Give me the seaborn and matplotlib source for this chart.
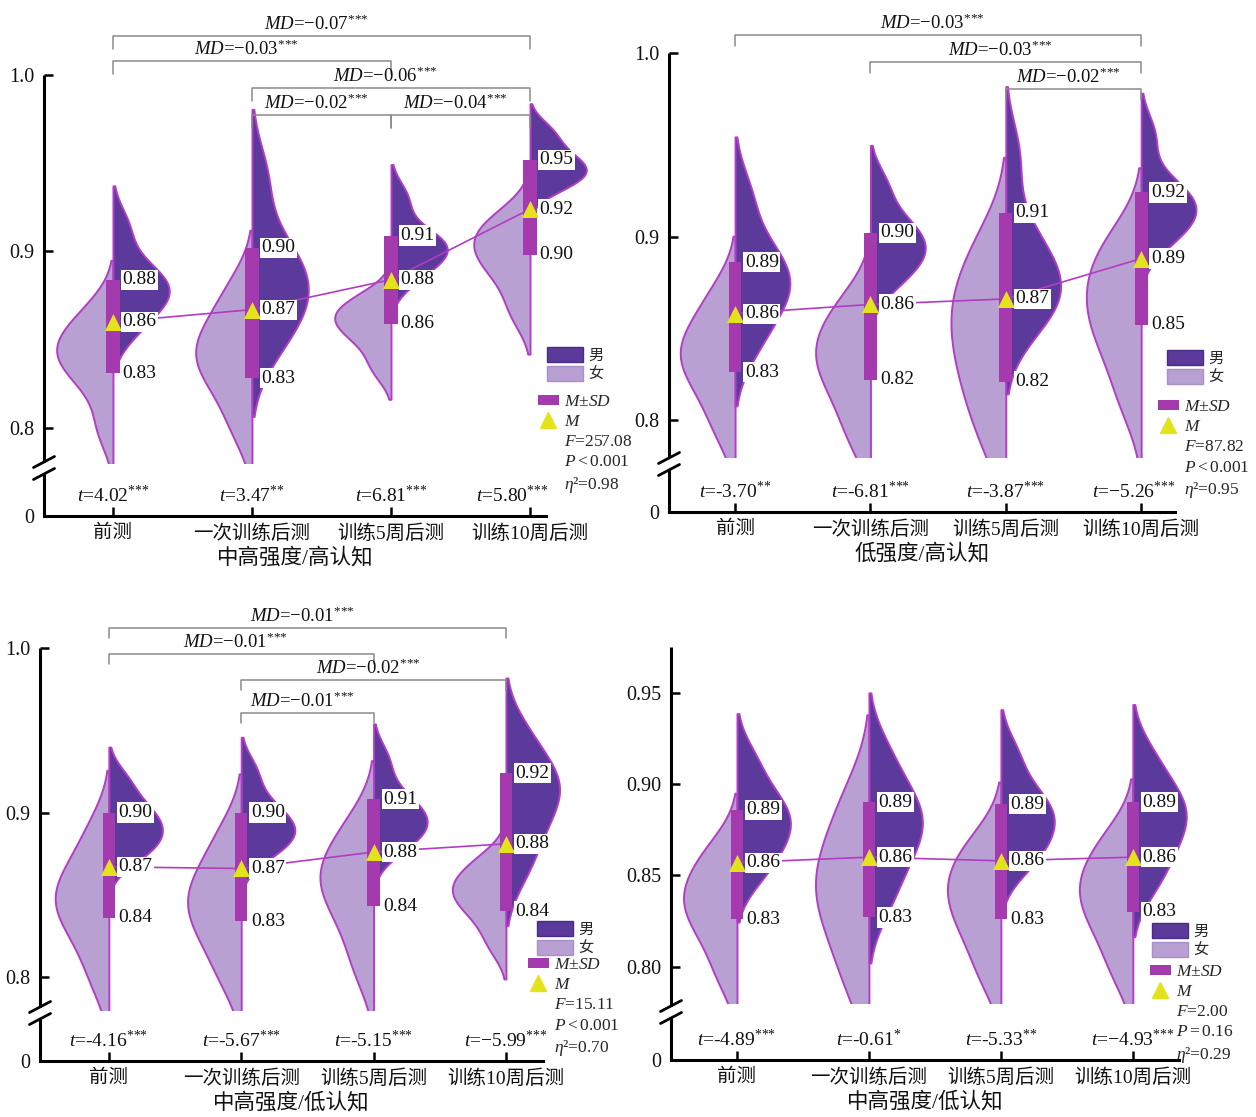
import numpy as np
import pandas as pd
import seaborn as sns
import matplotlib
matplotlib.use("Agg")
import matplotlib.pyplot as plt
from matplotlib.patches import Patch, Rectangle
from matplotlib.lines import Line2D

# ------------------------------------------------------------------ data
categories = ["前测", "一次训练后测", "训练5周后测", "训练10周后测"]
sex_levels = ["女", "男"]

p1_female = [
    [0.800, 0.825, 0.835, 0.842, 0.848, 0.855, 0.868],
    [0.800, 0.822, 0.834, 0.842, 0.850, 0.862, 0.880],
    [0.834, 0.849, 0.857, 0.862, 0.867, 0.874],
    [0.866, 0.886, 0.896, 0.904, 0.911, 0.920],
]
p1_male = [
    [0.855, 0.867, 0.874, 0.879, 0.884, 0.893, 0.914],
    [0.845, 0.862, 0.872, 0.882, 0.892, 0.905, 0.942],
    [0.885, 0.895, 0.900, 0.905, 0.910, 0.930],
    [0.935, 0.940, 0.944, 0.947, 0.950, 0.955, 0.962, 0.970],
]
p1_mean = [0.860, 0.867, 0.884, 0.924]
p1_upper = [0.884, 0.902, 0.909, 0.952]
p1_lower = [0.831, 0.828, 0.859, 0.898]
p1_t = ["4.02", "3.47", "6.81", "5.80"]
p1_t_sig = ["***", "**", "***", "***"]
p1_pairs = [(0, 3), (0, 2), (1, 3), (1, 2), (2, 3)]
p1_md = ["−0.07", "−0.03", "−0.06", "−0.02", "−0.04"]
p1_md_sig = ["***", "***", "***", "***", "***"]
p1_F, p1_P, p1_eta = "257.08", "<0.001", "0.98"
p1_xlabel = "中高强度/高认知"

# Panel 2: 低强度/高认知
p2_female = [
    [0.795, 0.815, 0.827, 0.835, 0.843, 0.853, 0.870],
    [0.790, 0.810, 0.824, 0.833, 0.842, 0.852, 0.866],
    [0.790, 0.815, 0.832, 0.849, 0.862, 0.877, 0.898],
    [0.810, 0.835, 0.850, 0.862, 0.873, 0.886, 0.900],
]
p2_male = [
    [0.840, 0.858, 0.868, 0.876, 0.884, 0.895, 0.922],
    [0.874, 0.884, 0.890, 0.896, 0.902, 0.910, 0.928],
    [0.852, 0.862, 0.870, 0.878, 0.888, 0.904, 0.944],
    [0.897, 0.905, 0.912, 0.917, 0.922, 0.930, 0.955],
]
p2_mean = [0.858, 0.863, 0.866, 0.888]
p2_upper = [0.886, 0.902, 0.913, 0.924]
p2_lower = [0.826, 0.822, 0.821, 0.852]
p2_t = ["-3.70", "-6.81", "-3.87", "−5.26"]
p2_t_sig = ["**", "***", "***", "***"]
p2_pairs = [(0, 3), (1, 3), (2, 3)]
p2_md = ["−0.03", "−0.03", "−0.02"]
p2_md_sig = ["***", "***", "***"]
p2_F, p2_P, p2_eta = "87.82", "<0.001", "0.95"
p2_xlabel = "低强度/高认知"

# Panel 3: 中高强度/低认知
p3_female = [
    [0.800, 0.825, 0.838, 0.847, 0.856, 0.868, 0.890],
    [0.800, 0.822, 0.835, 0.845, 0.855, 0.867, 0.888],
    [0.805, 0.830, 0.847, 0.857, 0.866, 0.877, 0.895],
    [0.820, 0.836, 0.845, 0.851, 0.856, 0.863, 0.872],
]
p3_male = [
    [0.872, 0.880, 0.886, 0.892, 0.898, 0.906, 0.920],
    [0.874, 0.882, 0.887, 0.892, 0.898, 0.907, 0.925],
    [0.878, 0.886, 0.892, 0.897, 0.903, 0.912, 0.932],
    [0.865, 0.885, 0.900, 0.911, 0.920, 0.928, 0.948],
]
p3_mean = [0.867, 0.866, 0.876, 0.881]
p3_upper = [0.900, 0.900, 0.908, 0.924]
p3_lower = [0.836, 0.834, 0.843, 0.840]
p3_t = ["-4.16", "-5.67", "-5.15", "−5.99"]
p3_t_sig = ["***", "***", "***", "***"]
p3_pairs = [(0, 3), (0, 2), (1, 3), (1, 2)]
p3_md = ["−0.01", "−0.01", "−0.02", "−0.01"]
p3_md_sig = ["***", "***", "***", "***"]
p3_F, p3_P, p3_eta = "15.11", "<0.001", "0.70"
p3_xlabel = "中高强度/低认知"

# Panel 4: 中高强度/低认知
p4_female = [
    [0.795, 0.815, 0.827, 0.835, 0.843, 0.853, 0.866],
    [0.790, 0.815, 0.832, 0.844, 0.856, 0.872, 0.895],
    [0.795, 0.815, 0.828, 0.838, 0.847, 0.857, 0.870],
    [0.797, 0.817, 0.830, 0.839, 0.848, 0.858, 0.872],
]
p4_male = [
    [0.850, 0.862, 0.872, 0.879, 0.886, 0.895, 0.913],
    [0.835, 0.855, 0.868, 0.878, 0.886, 0.896, 0.917],
    [0.855, 0.865, 0.874, 0.881, 0.888, 0.896, 0.916],
    [0.845, 0.860, 0.872, 0.881, 0.889, 0.897, 0.915],
]
p4_mean = [0.857, 0.860, 0.858, 0.860]
p4_upper = [0.886, 0.890, 0.889, 0.890]
p4_lower = [0.826, 0.827, 0.826, 0.830]
p4_t = ["-4.89", "-0.61", "-5.33", "−4.93"]
p4_t_sig = ["***", "*", "**", "***"]
p4_pairs = []
p4_md = []
p4_md_sig = []
p4_F, p4_P, p4_eta = "2.00", "=0.16", "0.29"
p4_xlabel = "中高强度/低认知"

# ------------------------------------------------------------------ style
sns.set_style("ticks")
plt.rcParams["font.family"] = ["Liberation Serif", "Noto Sans CJK SC", "DejaVu Sans"]
plt.rcParams["mathtext.fontset"] = "custom"
plt.rcParams["mathtext.rm"] = "Liberation Serif"
plt.rcParams["mathtext.it"] = "Liberation Serif:italic"
plt.rcParams["mathtext.bf"] = "Liberation Serif:bold"
plt.rcParams["mathtext.sf"] = "Liberation Serif"
plt.rcParams["axes.unicode_minus"] = True

DARK = "#5B3A9B"
LIGHT = "#B9A0D3"
EDGE = "#B33DC6"
BAR = "#A43AAE"
TRI = "#E3E31C"
LINE = "#B23CC2"
GRAY = "#8a8a8a"
TXT = "#111111"

W, H = 1256, 1117
fig = plt.figure(figsize=(W / 100, H / 100), dpi=100)
fig.patch.set_facecolor("white")


def stars(sig):
    return "".join("{*}" for _ in sig)


def draw_panel(rect_px, ylim, xlim, yticks, yticklabels, female, male, mean, upper, lower,
               t_vals, t_sig, t_dx, pairs, md_vals, md_sig, md_levels, md_leg,
               F, P, eta, xlabel, leg1_px, leg2_px):
    l, t, r, b = rect_px
    wpx, hpx = r - l, b - t
    ax = fig.add_axes([l / W, 1 - b / H, wpx / W, hpx / H])

    rows = []
    for i, cat in enumerate(categories):
        rows += [(cat, "女", v) for v in female[i]]
        rows += [(cat, "男", v) for v in male[i]]
    df = pd.DataFrame(rows, columns=["time", "sex", "value"])

    n0 = len(ax.collections)
    sns.violinplot(data=df, x="time", y="value", hue="sex", order=categories,
                   hue_order=sex_levels, split=True, inner=None, density_norm="width",
                   width=0.81, cut=2, bw_adjust=0.9, saturation=1,
                   palette={"女": LIGHT, "男": DARK}, linecolor=EDGE, linewidth=1.4,
                   legend=False, ax=ax)
    clip = Rectangle((-5, 0.78), 20, 5, transform=ax.transData)
    for c in ax.collections[n0:]:
        c.set_clip_path(clip)

    x = np.arange(len(categories))
    ax.plot(x, mean, color=LINE, lw=1.2, zorder=3)
    ax.bar(x, np.array(upper) - np.array(lower), bottom=lower, width=0.095,
           color=BAR, zorder=4, linewidth=0)
    ax.scatter(x, mean, marker="^", s=150, color=TRI, zorder=5, linewidths=0)

    bbox = dict(boxstyle="square,pad=0.08", facecolor="white", edgecolor="none")
    for i in range(len(categories)):
        for v in (upper[i], mean[i], lower[i]):
            ax.annotate(f"{v:.2f}", (x[i], v), xytext=(7, 0), textcoords="offset points",
                        ha="left", va="center", fontsize=14, color=TXT, bbox=bbox, zorder=6)

    # t values above the axis
    for i in range(len(categories)):
        ax.annotate(rf"$t$={t_vals[i]}$^{{{stars(t_sig[i])}}}$", (x[i], ylim[0]),
                    xytext=(t_dx[i], 15), textcoords="offset points", ha="center",
                    va="center", fontsize=14, color=TXT, annotation_clip=False)

    # significance brackets
    for (i, j), md, sig, lev in zip(pairs, md_vals, md_sig, md_levels):
        ax.plot([i, i, j, j], [lev - md_leg, lev, lev, lev - md_leg], color=GRAY,
                lw=1.1, clip_on=False, zorder=2)
        ax.annotate(rf"$MD$={md}$^{{{stars(sig)}}}$", ((i + j) / 2, lev),
                    xytext=(-4, 1.5), textcoords="offset points", ha="center", va="bottom",
                    fontsize=13.5, color=TXT, annotation_clip=False)

    ax.set_xlim(*xlim)
    ax.set_ylim(*ylim)
    ax.set_xticks(x)
    ax.set_xticklabels(categories, fontsize=14, color=TXT)
    ax.set_yticks(yticks)
    ax.set_yticklabels(yticklabels, fontsize=14.5, color=TXT)
    ax.set_xlabel(xlabel, fontsize=15.5, color=TXT, labelpad=3)
    ax.set_ylabel("")
    ax.tick_params(axis="both", direction="in", length=6.5, width=1.8, color="black")
    ax.tick_params(axis="x", pad=6)
    ax.tick_params(axis="y", pad=7)
    for s in ("top", "right", "left"):
        ax.spines[s].set_visible(False)
    ax.spines["bottom"].set_linewidth(2.2)
    ax.spines["bottom"].set_color("black")

    # broken y axis
    lo, hi = 42 / hpx, 54 / hpx
    ax.plot([0, 0], [0, lo], transform=ax.transAxes, color="black", lw=2.2,
            clip_on=False, solid_capstyle="butt")
    ax.plot([0, 0], [hi, 1], transform=ax.transAxes, color="black", lw=2.2,
            clip_on=False, solid_capstyle="butt")
    for yc in (lo, hi):
        ax.plot([-10.5 / wpx, 10.5 / wpx], [yc - 5.5 / hpx, yc + 5.5 / hpx],
                transform=ax.transAxes, color="black", lw=2.0, clip_on=False)

    # legends
    h1 = [Patch(facecolor=DARK, edgecolor="#4a2c86", lw=1.0),
          Patch(facecolor=LIGHT, edgecolor="#a890c6", lw=1.0)]
    fig.legend(h1, ["男", "女"], loc="upper left",
               bbox_to_anchor=(leg1_px[0] / W, 1 - leg1_px[1] / H),
               bbox_transform=fig.transFigure, frameon=False, fontsize=11,
               handlelength=2.35, handleheight=1.1, labelspacing=0.25,
               handletextpad=0.35, borderpad=0, borderaxespad=0)
    empty = Line2D([], [], linestyle="none")
    h2 = [Patch(facecolor=BAR, edgecolor="none"),
          Line2D([], [], marker="^", color=TRI, markersize=12, linestyle="none"),
          empty, empty, empty]
    lab2 = [r"$M$±$SD$", r"$M$", rf"$F$={F}", rf"$P{P}$", rf"$\eta$²={eta}"]
    fig.legend(h2, lab2, loc="upper left",
               bbox_to_anchor=(leg2_px[0] / W, 1 - leg2_px[1] / H),
               bbox_transform=fig.transFigure, frameon=False, fontsize=12.5,
               handlelength=1.2, handleheight=0.55, labelspacing=0.24,
               handletextpad=0.3, borderpad=0, borderaxespad=0)
    return ax


draw_panel((44, 75, 546, 516), (0.75, 1.0), (-0.496, 3.115),
           [0.75, 0.8, 0.9, 1.0], ["0", "0.8", "0.9", "1.0"],
           p1_female, p1_male, p1_mean, p1_upper, p1_lower, p1_t, p1_t_sig, [0, 0, 0, -13],
           p1_pairs, p1_md, p1_md_sig, [1.0222, 1.0080, 0.9927, 0.9774, 0.9774], 0.0074,
           p1_F, p1_P, p1_eta, p1_xlabel, (547, 347), (538, 394))

draw_panel((669, 53, 1175, 512), (0.7499, 1.0), (-0.488, 3.25),
           [0.7499, 0.8, 0.9, 1.0], ["0", "0.8", "0.9", "1.0"],
           p2_female, p2_male, p2_mean, p2_upper, p2_lower, p2_t, p2_t_sig, [0, 0, 0, -5],
           p2_pairs, p2_md, p2_md_sig, [1.0098, 0.9951, 0.9804], 0.006,
           p2_F, p2_P, p2_eta, p2_xlabel, (1167, 350), (1158, 399))

draw_panel((40, 648, 543, 1061), (0.749, 1.0), (-0.52, 3.28),
           [0.749, 0.8, 0.9, 1.0], ["0", "0.8", "0.9", "1.0"],
           p3_female, p3_male, p3_mean, p3_upper, p3_lower, p3_t, p3_t_sig, [0, 0, 0, 0],
           p3_pairs, p3_md, p3_md_sig, [1.0122, 0.9964, 0.9805, 0.9605], 0.006,
           p3_F, p3_P, p3_eta, p3_xlabel, (537, 921), (528, 957))

draw_panel((671, 647, 1179, 1060), (0.749, 0.975), (-0.5, 3.35),
           [0.749, 0.80, 0.85, 0.90, 0.95], ["0", "0.80", "0.85", "0.90", "0.95"],
           p4_female, p4_male, p4_mean, p4_upper, p4_lower, p4_t, p4_t_sig, [0, 0, 0, 0],
           p4_pairs, p4_md, p4_md_sig, [], 0.006,
           p4_F, p4_P, p4_eta, p4_xlabel, (1152, 923), (1150, 964))

fig.savefig("out.png", dpi=100, facecolor="white")
